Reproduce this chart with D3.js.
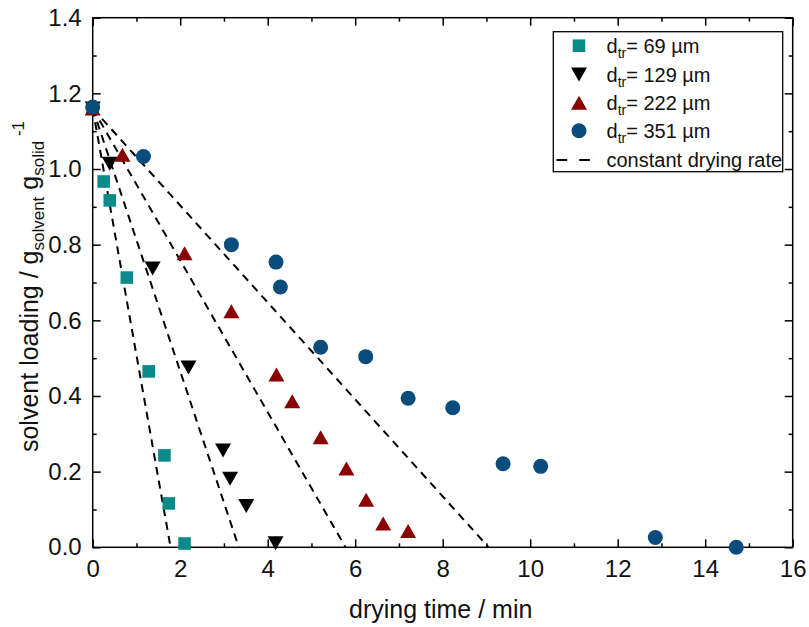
<!DOCTYPE html>
<html>
<head>
<meta charset="utf-8">
<script src="https://cdn.jsdelivr.net/npm/d3@7"></script>
<style>
  html, body { margin: 0; padding: 0; background: #fff; }
  svg { display: block; font-family: "Liberation Sans", Arial, sans-serif; }
</style>
</head>
<body>
<svg id="chart" width="809" height="627"></svg>
<script>
// Solvent loading over drying time for four particle sizes
const series69X  = [0, 0.25, 0.39, 0.78, 1.28, 1.64, 1.74, 2.10];
const series69Y  = [1.16, 0.967, 0.917, 0.713, 0.465, 0.243, 0.116, 0.01];

const series129X = [0, 0.39, 1.37, 2.19, 2.98, 3.14, 3.51, 4.18];
const series129Y = [1.16, 1.014, 0.737, 0.475, 0.256, 0.181, 0.109, 0.011];

const series222X = [0, 0.68, 2.10, 3.17, 4.20, 4.56, 5.21, 5.80, 6.25, 6.64, 7.21];
const series222Y = [1.16, 1.038, 0.777, 0.624, 0.457, 0.386, 0.291, 0.208, 0.126, 0.063, 0.043];

const series351X = [0, 1.16, 3.17, 4.19, 4.29, 5.21, 6.24, 7.21, 8.23, 9.38, 10.24, 12.86, 14.71];
const series351Y = [1.164, 1.033, 0.80, 0.754, 0.688, 0.529, 0.504, 0.394, 0.369, 0.221, 0.214, 0.026, 0.0];

// constant drying rate lines: start loading and end time for each size
const rateStartY = [1.16, 1.16, 1.16, 1.16];
const rateEndX   = [1.78, 3.34, 5.78, 9.05];

const legendSizes = ["69", "129", "222", "351"];
const xTicks = [0, 2, 4, 6, 8, 10, 12, 14, 16];
const yTicks = [0.0, 0.2, 0.4, 0.6, 0.8, 1.0, 1.2, 1.4];

const colTeal = "#0b8a8a";
const colBlack = "#000000";
const colRed = "#8b0000";
const colBlue = "#0a4c7b";

const svg = d3.select("#chart");
const W = 809, H = 627;
const m = { left: 92.7, right: 16.3, top: 17.7, bottom: 79.7 };
const pw = W - m.left - m.right, ph = H - m.top - m.bottom;

const x = d3.scaleLinear().domain([0, 16]).range([m.left, m.left + pw]);
const y = d3.scaleLinear().domain([0, 1.4]).range([m.top + ph, m.top]);

const tickFont = 24;
const titleFont = 25;

// minor ticks
const xMinor = d3.range(1, 16, 2);
const yMinor = d3.range(0.1, 1.4, 0.2);

function styleAxis(g) {
  g.select(".domain").remove();
  g.selectAll("line").attr("stroke", "#000").attr("stroke-width", 1.5);
  g.selectAll("text").attr("font-size", tickFont).attr("fill", "#111");
}

// bottom
svg.append("g").attr("transform", `translate(0,${y(0)})`)
  .call(d3.axisBottom(x).tickValues(xTicks).tickFormat(d3.format("d")).tickSizeInner(-8).tickSizeOuter(0).tickPadding(13))
  .call(styleAxis);
svg.append("g").attr("transform", `translate(0,${y(0)})`)
  .call(d3.axisBottom(x).tickValues(xMinor).tickFormat("").tickSizeInner(-4).tickSizeOuter(0))
  .call(styleAxis);
// top
svg.append("g").attr("transform", `translate(0,${y(1.4)})`)
  .call(d3.axisTop(x).tickValues(xTicks).tickFormat("").tickSizeInner(-8).tickSizeOuter(0))
  .call(styleAxis);
svg.append("g").attr("transform", `translate(0,${y(1.4)})`)
  .call(d3.axisTop(x).tickValues(xMinor).tickFormat("").tickSizeInner(-4).tickSizeOuter(0))
  .call(styleAxis);
// left
svg.append("g").attr("transform", `translate(${x(0)},0)`)
  .call(d3.axisLeft(y).tickValues(yTicks).tickFormat(d3.format(".1f")).tickSizeInner(-8).tickSizeOuter(0).tickPadding(11))
  .call(styleAxis);
svg.append("g").attr("transform", `translate(${x(0)},0)`)
  .call(d3.axisLeft(y).tickValues(yMinor).tickFormat("").tickSizeInner(-4).tickSizeOuter(0))
  .call(styleAxis);
// right
svg.append("g").attr("transform", `translate(${x(16)},0)`)
  .call(d3.axisRight(y).tickValues(yTicks).tickFormat("").tickSizeInner(-8).tickSizeOuter(0))
  .call(styleAxis);
svg.append("g").attr("transform", `translate(${x(16)},0)`)
  .call(d3.axisRight(y).tickValues(yMinor).tickFormat("").tickSizeInner(-4).tickSizeOuter(0))
  .call(styleAxis);

// frame
svg.append("rect")
  .attr("x", x(0)).attr("y", y(1.4))
  .attr("width", x(16) - x(0)).attr("height", y(0) - y(1.4))
  .attr("fill", "none").attr("stroke", "#000").attr("stroke-width", 1.5);

// axis titles
svg.append("text")
  .attr("x", (x(0) + x(16)) / 2 - 2).attr("y", 617.5)
  .attr("text-anchor", "middle").attr("font-size", titleFont).attr("fill", "#111")
  .text("drying time / min");

const yt = svg.append("text")
  .attr("transform", `translate(38,${(y(0) + y(1.4)) / 2 + 4}) rotate(-90)`)
  .attr("text-anchor", "middle").attr("font-size", titleFont).attr("fill", "#111");
yt.append("tspan").text("solvent loading / g");
yt.append("tspan").attr("font-size", 17).attr("dy", 6).text("solvent");
yt.append("tspan").attr("dy", -6).text(" g");
yt.append("tspan").attr("font-size", 17).attr("dy", 6).text("solid");
yt.append("tspan").attr("font-size", 17).attr("dy", -20).text(" -1");

// constant drying rate lines
const plot = svg.append("g");
rateEndX.forEach((ex, i) => {
  plot.append("line")
    .attr("x1", x(0)).attr("y1", y(rateStartY[i]))
    .attr("x2", x(ex)).attr("y2", y(0))
    .attr("stroke", "#000").attr("stroke-width", 2)
    .attr("stroke-dasharray", "8,6");
});

// marker shapes
const squarePath = "M-6.3,-6.3H6.3V6.3H-6.3Z";
const triUp = "M0,-7L8,7L-8,7Z";
const triDown = "M0,7L8,-7L-8,-7Z";

function drawPoints(xs, ys, shape, color) {
  plot.append("g").selectAll("path")
    .data(xs.map((v, i) => [v, ys[i]]))
    .join("path")
    .attr("d", shape)
    .attr("transform", d => `translate(${x(d[0])},${y(d[1])})`)
    .attr("fill", color);
}
function drawCircles(xs, ys, color) {
  plot.append("g").selectAll("circle")
    .data(xs.map((v, i) => [v, ys[i]]))
    .join("circle")
    .attr("cx", d => x(d[0])).attr("cy", d => y(d[1]))
    .attr("r", 7.5).attr("fill", color);
}

drawPoints(series69X, series69Y, squarePath, colTeal);
drawPoints(series129X, series129Y, triDown, colBlack);
drawPoints(series222X, series222Y, triUp, colRed);
drawCircles(series351X, series351Y, colBlue);

// legend
const lg = svg.append("g");
lg.append("rect")
  .attr("x", 553.3).attr("y", 31.7).attr("width", 229.4).attr("height", 140)
  .attr("fill", "#fff").attr("stroke", "#000").attr("stroke-width", 1.3);

const legendShapes = [squarePath, triDown, triUp, null];
const legendColors = [colTeal, colBlack, colRed, colBlue];
const rowY = [45.7, 74.5, 102.7, 130.7];
legendSizes.forEach((s, i) => {
  if (legendShapes[i]) {
    lg.append("path").attr("d", legendShapes[i])
      .attr("transform", `translate(579,${rowY[i]})`).attr("fill", legendColors[i]);
  } else {
    lg.append("circle").attr("cx", 579).attr("cy", rowY[i]).attr("r", 7.5).attr("fill", legendColors[i]);
  }
  const t = lg.append("text").attr("x", 606.5).attr("y", rowY[i] + 7)
    .attr("font-size", 20).attr("fill", "#111");
  t.append("tspan").text("d");
  t.append("tspan").attr("font-size", 14).attr("dy", 5).text("tr");
  t.append("tspan").attr("dy", -5).text("= " + s + " µm");
});
lg.append("line")
  .attr("x1", 556.5).attr("x2", 590).attr("y1", 160).attr("y2", 160)
  .attr("stroke", "#000").attr("stroke-width", 2).attr("stroke-dasharray", "10.7,12");
lg.append("text").attr("x", 606.5).attr("y", 166.5)
  .attr("font-size", 20).attr("fill", "#111").text("constant drying rate");
</script>
</body>
</html>
